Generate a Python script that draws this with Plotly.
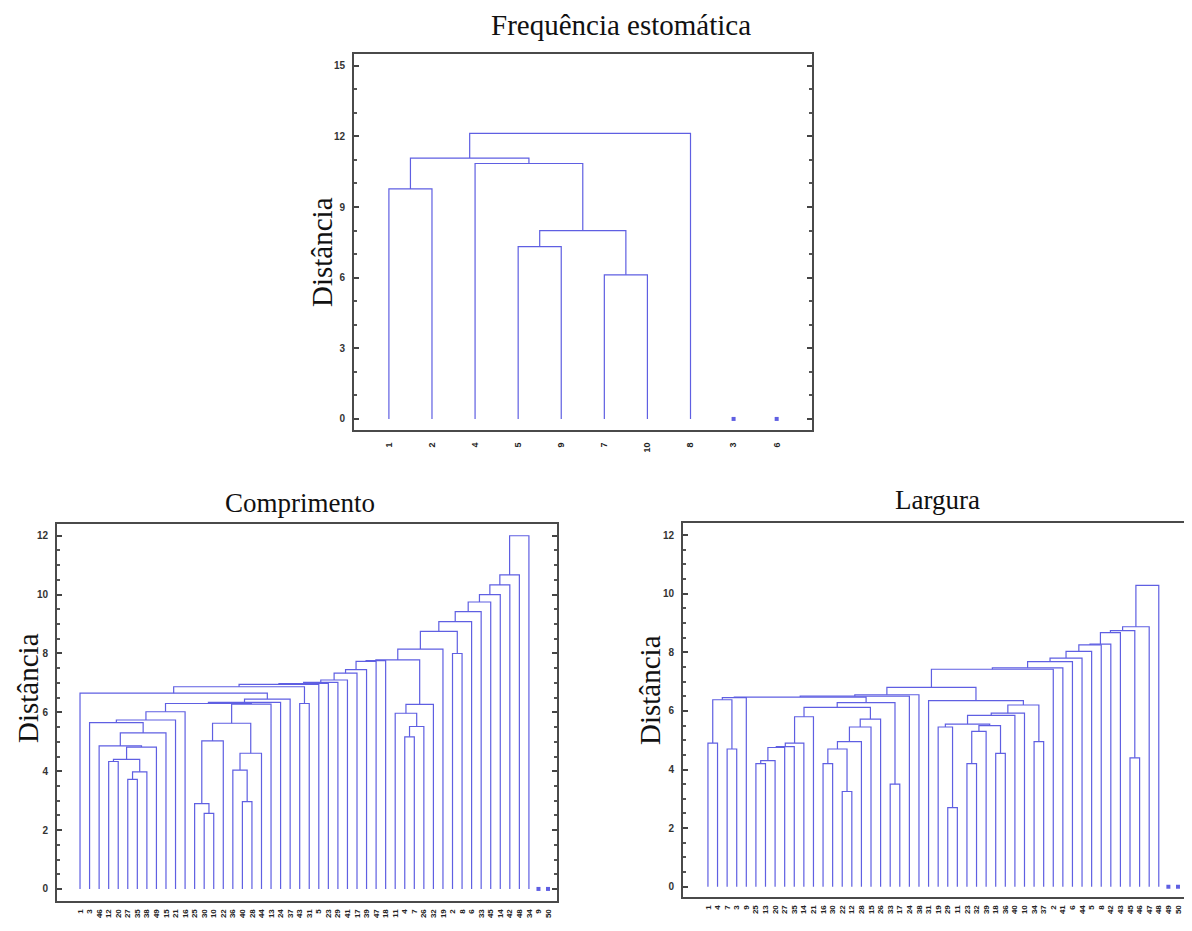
import plotly.graph_objects as go

# page has an 8px body margin, so the figure is shifted by 8px
OFF = 8
W, H = 1192 - OFF, 931 - OFF

# ---------------- data ----------------
# merges use the R hclust convention: negative = leaf position (1-based),
# positive = index (1-based) of an earlier merge
freq_labels = ["1", "2", "4", "5", "9", "7", "10", "8", "3", "6"]
freq_left = [-1, -4, -6, 2, -3, 1, 6]
freq_right = [-2, -5, -7, 3, 4, 5, -8]
freq_height = [9.77, 7.32, 6.12, 8.0, 10.85, 11.08, 12.13]
freq_isolated = [9, 10]

comp_labels = ["1", "3", "46", "12", "20", "27", "35", "38", "49", "15", "21", "16", "25",
               "30", "10", "22", "36", "40", "28", "44", "13", "24", "37", "43", "31", "5",
               "23", "29", "41", "17", "39", "47", "18", "11", "4", "7", "26", "32", "19",
               "2", "8", "6", "33", "45", "14", "42", "48", "34", "9", "50"]
comp_left = [-6, 1, -4, 3, 4, -3, 6, -2, 8, 9,
             -14, -13, 12, -18, -17, 15, 13, 17, 10, 19,
             20, -1, -24, 22, 24, 25, 26, 27, 28, 29,
             30, 31, -35, 33, -34, 35, 32, 37, -40, 38,
             40, 41, 42, 43, 44, 45, 46]
comp_right = [-7, -8, -5, 2, -9, 5, -10, 7, -11, -12,
              -15, 11, -16, -19, 14, -20, 16, -21, 18, -22,
              -23, 21, -25, 23, -26, -27, -28, -29, -30, -31,
              -32, -33, -36, -37, 34, -38, 36, -39, -41, 39,
              -42, -43, -44, -45, -46, -47, -48]
comp_height = [3.72, 3.98, 4.33, 4.4, 4.82, 4.86, 5.3, 5.65, 5.74, 6.02,
               2.57, 2.9, 5.03, 2.97, 4.04, 4.61, 5.63, 6.28, 6.3, 6.34,
               6.45, 6.65, 6.3, 6.87, 6.95, 6.98, 7.02, 7.1, 7.33, 7.45,
               7.73, 7.76, 5.17, 5.52, 5.97, 6.27, 7.78, 8.15, 8.0, 8.75,
               9.08, 9.42, 9.75, 10.0, 10.33, 10.67, 12.0]
comp_isolated = [49, 50]

larg_labels = ["1", "4", "7", "3", "9", "25", "13", "20", "27", "35", "14", "21", "16",
               "30", "22", "12", "28", "15", "26", "33", "17", "24", "38", "31", "19", "29",
               "11", "23", "32", "39", "18", "36", "40", "10", "34", "37", "2", "41", "6",
               "44", "5", "8", "42", "43", "45", "46", "47", "48", "49", "50"]
larg_left = [-1, -3, 1, 3, -6, 5, 6, 7, 8, 9,
             -13, -15, 11, 13, 14, 15, 10, -20, 17, 4,
             20, 21, -26, -25, -28, 25, -31, 26, 24, 29,
             30, -35, 31, -24, 22, 35, 36, 37, 38, 39,
             40, 41, 42, -45, 43, 45, 46]
larg_right = [-2, -4, 2, -5, -7, -8, -9, -10, -11, -12,
              -14, -16, 12, -17, -18, -19, 16, -21, 18, 19,
              -22, -23, -27, 23, -29, -30, -32, 27, 28, -33,
              -34, -36, 32, 33, 34, -37, -38, -39, -40, -41,
              -42, -43, -44, -46, 44, -47, -48]
larg_height = [4.9, 4.7, 6.38, 6.45, 4.2, 4.3, 4.75, 4.78, 4.9, 5.8,
               4.2, 3.25, 4.7, 4.95, 5.45, 5.72, 6.12, 3.5, 6.28, 6.47,
               6.5, 6.55, 2.7, 5.45, 4.2, 5.3, 4.55, 5.5, 5.55, 5.85,
               5.92, 4.95, 6.2, 6.35, 6.8, 7.42, 7.47, 7.68, 7.8, 8.03,
               8.25, 8.28, 8.67, 4.4, 8.74, 8.87, 10.28]
larg_isolated = [49, 50]

LINE_COLOR = "#5f5fe2"
FRAME_COLOR = "#4a4a4a"


def dendro_lines(left, right, height):
    cx, ch = {}, {}
    xs, ys = [], []

    def node(i):
        return (float(-i), 0.0) if i < 0 else (cx[i], ch[i])

    for k, (a, b, h) in enumerate(zip(left, right, height), start=1):
        xa, ha = node(a)
        xb, hb = node(b)
        xs += [xa, xa, xb, xb, None]
        ys += [ha, h, h, hb, None]
        cx[k] = (xa + xb) / 2
        ch[k] = h
    return xs, ys


fig = go.Figure()

panels = [
    ("x", "y", freq_left, freq_right, freq_height, freq_isolated),
    ("x2", "y2", comp_left, comp_right, comp_height, comp_isolated),
    ("x3", "y3", larg_left, larg_right, larg_height, larg_isolated),
]
for xa, ya, l, r, h, iso in panels:
    xs, ys = dendro_lines(l, r, h)
    fig.add_trace(go.Scatter(x=xs, y=ys, mode="lines", xaxis=xa, yaxis=ya,
                             line=dict(color=LINE_COLOR, width=1.2),
                             hoverinfo="skip", showlegend=False))
    fig.add_trace(go.Scatter(x=iso, y=[0] * len(iso), mode="markers", xaxis=xa, yaxis=ya,
                             marker=dict(symbol="square", size=4, color=LINE_COLOR),
                             hoverinfo="skip", showlegend=False))


def px_dom_x(a, b):
    return [(a - OFF) / W, min(1.0, (b - OFF) / W)]


def px_dom_y(top, bottom):
    return [max(0.0, 1 - (bottom - OFF) / H), 1 - (top - OFF) / H]


tickfont = dict(family="Liberation Sans", size=10, color="#333333", weight="bold")


def yaxis_style(rng, dtick, minor_dtick, domain, anchor):
    return dict(range=rng, domain=domain, anchor=anchor, tick0=0, dtick=dtick,
                showline=True, linewidth=2, linecolor=FRAME_COLOR, mirror="ticks",
                ticks="inside", ticklen=5, tickwidth=1.5, tickcolor="#444444",
                ticklabelstandoff=5,
                showgrid=False, zeroline=False, tickfont=tickfont,
                minor=dict(ticks="inside", ticklen=3, tickcolor="#555555",
                           dtick=minor_dtick, tick0=0, showgrid=False))


def xaxis_style(rng, labels, domain, anchor, size, standoff):
    return dict(range=rng, domain=domain, anchor=anchor,
                tickmode="array", tickvals=list(range(1, len(labels) + 1)), ticktext=labels,
                tickangle=-90, showline=True, linewidth=2, linecolor=FRAME_COLOR, mirror=True,
                ticks="", showgrid=False, zeroline=False, ticklabelstandoff=standoff,
                tickfont=dict(family="Liberation Sans", size=size, color="#222222", weight="bold"))


fig.update_layout(
    width=W, height=H,
    margin=dict(l=0, r=0, t=0, b=0),
    paper_bgcolor="white", plot_bgcolor="white",
    xaxis=xaxis_style([0.19, 10.82], freq_labels, px_dom_x(354, 812), "y", 9, 7),
    yaxis=yaxis_style([-0.47, 15.5], 3, 1, px_dom_y(54, 430), "x"),
    xaxis2=xaxis_style([-1.41, 50.94], comp_labels, px_dom_x(57, 557), "y2", 8, 3),
    yaxis2=yaxis_style([-0.41, 12.4], 2, 0.5, px_dom_y(524, 901), "x2"),
    xaxis3=xaxis_style([-1.6, 51.15], larg_labels, px_dom_x(683, 1189), "y3", 8, 3),
    yaxis3=yaxis_style([-0.35, 12.41], 2, 0.5, px_dom_y(523, 897), "x3"),
)

serif = "Liberation Serif"
annots = [
    ("Frequência estomática", 621, 25, 0, 29),
    ("Comprimento", 300, 503, 0, 27),
    ("Largura", 937, 500, 0, 27),
    ("Distância", 322, 252, -90, 29),
    ("Distância", 28, 688, -90, 29),
    ("Distância", 650, 690, -90, 29),
]
for text, xp, yp, ang, size in annots:
    fig.add_annotation(text=text, x=(xp - OFF) / W, y=1 - (yp - OFF) / H,
                       xref="paper", yref="paper",
                       showarrow=False, textangle=ang, xanchor="center", yanchor="middle",
                       font=dict(family=serif, size=size, color="#111111"))

fig.write_html("out.html")
